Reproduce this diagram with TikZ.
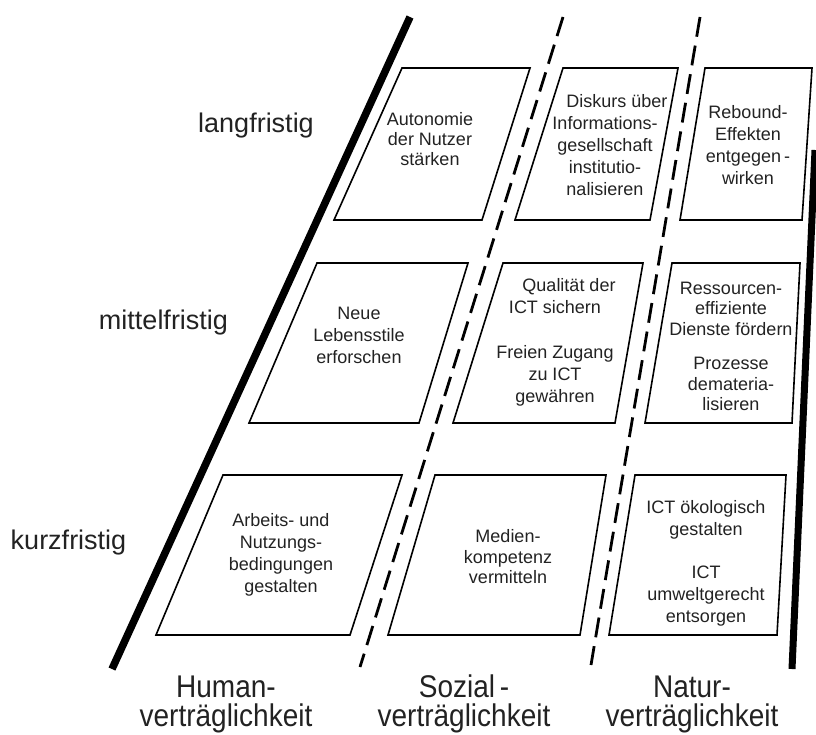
\documentclass[tikz,border=0pt]{standalone}
\usepackage{fontspec}
\usepackage{graphicx}
\setmainfont{Liberation Sans}
\definecolor{txt}{HTML}{222222}
\newcommand{\tallText}[1]{\scalebox{1}[1.12]{#1}}
\begin{document}
\begin{tikzpicture}[x=1pt,y=-1pt,
  boxshape/.style={draw=black,line width=1.6pt,line join=miter},
  boxtext/.style={align=center,inner sep=0pt,text=txt,font=\fontsize{18}{22}\selectfont},
  rowlabel/.style={anchor=base,inner sep=0pt,text=txt,font=\fontsize{27}{30}\selectfont},
  collabel/.style={align=center,inner sep=0pt,text=txt,font=\fontsize{28}{29}\selectfont},
  thickline/.style={line width=7.5pt,line cap=butt},
  dashline/.style={line width=2.8pt,dash pattern=on 20pt off 9pt}]
\useasboundingbox (0,0) rectangle (816,734);

% separating lines
\coordinate (Ltop) at (410,17);
\coordinate (Lbot) at (112,669);
\coordinate (D1top) at (563,17);
\coordinate (D1bot) at (360,667);
\coordinate (D2top) at (700,17);
\coordinate (D2bot) at (591,665);
\coordinate (Rtop) at (815,150);
\coordinate (Rbot) at (792,669);
\draw[thickline] (Ltop) -- (Lbot);
\draw[thickline,line width=7pt] (Rtop) -- (Rbot);
\draw[dashline] (D1top) -- (D1bot);
\draw[dashline] (D2top) -- (D2bot);

% boxes row 1
\draw[boxshape] (402,68) -- (530,68) -- (482,220) -- (334,220) -- cycle;
\draw[boxshape] (563,68) -- (678,68) -- (650,220) -- (515,220) -- cycle;
\draw[boxshape] (705,68) -- (812,68) -- (802,220) -- (680,220) -- cycle;
% row 2
\draw[boxshape] (317,263) -- (468,263) -- (419,423) -- (249,423) -- cycle;
\draw[boxshape] (503,263) -- (643,263) -- (615,423) -- (453,423) -- cycle;
\draw[boxshape] (672,263) -- (800,263) -- (792,423) -- (645,423) -- cycle;
% row 3
\draw[boxshape] (223,475) -- (402,475) -- (350,635) -- (156,635) -- cycle;
\draw[boxshape] (435,475) -- (606,475) -- (580,635) -- (388,635) -- cycle;
\draw[boxshape] (635,475) -- (786,475) -- (777,635) -- (609,635) -- cycle;

% box texts
\node[boxtext,font=\fontsize{18}{20}\selectfont] (t11) at (430,139) {Autonomie\\der Nutzer\\stärken};
\node[boxtext] (t12) at (605,145) {\hspace*{24pt}Diskurs über\\Informations-\\gesellschaft\\institutio-\\nalisieren};
\node[boxtext] (t13) at (748,145) {Rebound-\\Effekten\\entgegen\,-\\wirken};
\node[boxtext] (t21) at (359,335) {Neue\\Lebensstile\\erforschen};
\node[boxtext] (t22) at (555,342.5) {\hspace*{28pt}Qualität der\\ICT sichern\\[23pt]Freien Zugang\\zu ICT\\gewähren};
\node[boxtext,font=\fontsize{18}{20.5}\selectfont] (t23) at (731,346.5) {Ressourcen-\\effiziente\\Dienste fördern\\[14pt]Prozesse\\demateria-\\lisieren};
\node[boxtext] (t31) at (281,555) {Arbeits- und\\Nutzungs-\\bedingungen\\gestalten};
\node[boxtext,font=\fontsize{18}{20.5}\selectfont] (t32) at (508,557) {Medien-\\kompetenz\\vermitteln};
\node[boxtext] (t33) at (706,563) {ICT ökologisch\\gestalten\\[21pt]ICT\\umweltgerecht\\entsorgen};

% row labels
\node[rowlabel] (lang) at (256,132) {langfristig};
\node[rowlabel] (mittel) at (163.5,329) {mittelfristig};
\node[rowlabel] (kurz) at (68.5,549) {kurzfristig};

% column labels
\node[collabel] (human) at (226,704) {\tallText{Human-}\\\tallText{verträglichkeit}};
\node[collabel] (sozial) at (464,704) {\tallText{Sozial\,-}\\\tallText{verträglichkeit}};
\node[collabel] (natur) at (692,704) {\tallText{Natur-}\\\tallText{verträglichkeit}};
\end{tikzpicture}
\end{document}
